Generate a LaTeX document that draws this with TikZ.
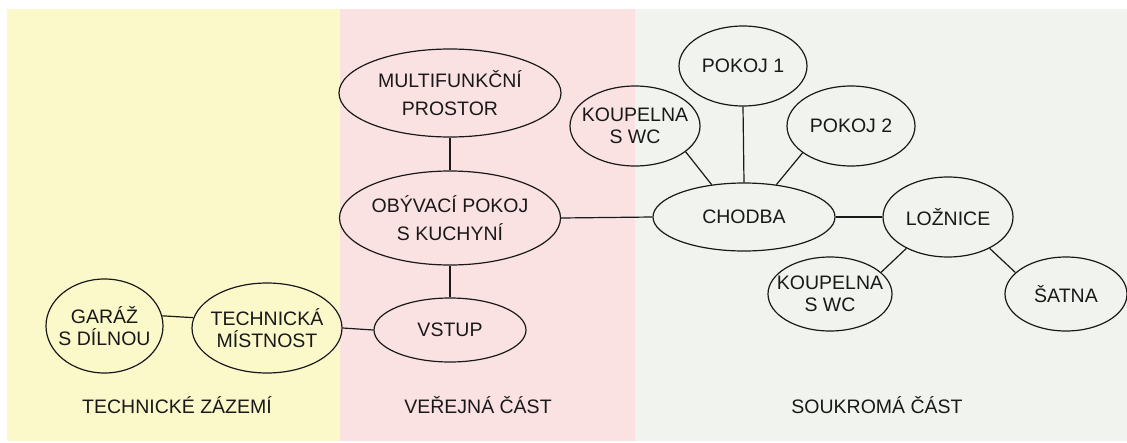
\documentclass[tikz,border=0pt]{standalone}
\usepackage{fontspec}
\setmainfont{Liberation Sans}
\usetikzlibrary{shapes.geometric}
\definecolor{zoneY}{RGB}{251,248,202}
\definecolor{zoneP}{RGB}{251,226,226}
\definecolor{zoneG}{RGB}{241,244,238}
\definecolor{ink}{RGB}{25,25,25}
\tikzset{
  room/.style={draw=ink, line width=1.2pt, ellipse, inner sep=0pt, inner xsep=-20pt, align=center,
    text=ink, font=\fontsize{19.5}{22}\selectfont},
  wide/.style={font=\fontsize{19.5}{28}\selectfont},
  link/.style={draw=ink, line width=1.2pt},
  zonelabel/.style={text=ink, font=\fontsize{19.5}{22}\selectfont, inner sep=0pt}
}
\begin{document}
\begin{tikzpicture}[x=1pt,y=-1pt]
\useasboundingbox (0,0) rectangle (1127,442);
\fill[white] (0,0) rectangle (1127,442);
\fill[zoneY] (7,9) rectangle (340,441);
\fill[zoneP] (340,9) rectangle (635,441);
\fill[zoneG] (635,9) rectangle (1127,441);

\node[room, minimum width=117pt, minimum height=94pt] (gar) at (104.5,326) {GARÁŽ\\S DÍLNOU};
\node[room, minimum width=150pt, minimum height=90pt] (tech) at (267,328) {TECHNICKÁ\\MÍSTNOST};
\node[room, minimum width=152pt, minimum height=64pt] (vst) at (450,330) {VSTUP};
\node[room, wide, minimum width=221pt, minimum height=94pt] (oby) at (450,218) {OBÝVACÍ POKOJ\\S KUCHYNÍ};
\node[room, wide, minimum width=222pt, minimum height=88pt] (mul) at (450,93) {MULTIFUNKČNÍ\\PROSTOR};
\node[room, minimum width=130pt, minimum height=80pt] (kop1) at (635,126) {KOUPELNA\\S WC};
\node[room, minimum width=128pt, minimum height=80pt] (pk1) at (743,66) {POKOJ 1};
\node[room, minimum width=128pt, minimum height=80pt] (pk2) at (851,126) {POKOJ 2};
\node[room, minimum width=182pt, minimum height=68pt] (cho) at (744,217) {CHODBA};
\node[room, minimum width=130pt, minimum height=80pt] (loz) at (948,217) {LOŽNICE};
\node[room, minimum width=124pt, minimum height=74pt] (kop2) at (830,294) {KOUPELNA\\S WC};
\node[room, minimum width=122pt, minimum height=74pt] (sat) at (1066,294) {ŠATNA};

\node[zonelabel] (zt) at (177,405) {TECHNICKÉ ZÁZEMÍ};
\node[zonelabel] (zv) at (478,405) {VEŘEJNÁ ČÁST};
\node[zonelabel] (zs) at (877,405) {SOUKROMÁ ČÁST};

\draw[link] (gar.10) -- (tech.172);
\draw[link] (tech.east) -- (vst.west);
\draw[link] (vst.north) -- (oby.south);
\draw[link] (oby.north) -- (mul.south);
\draw[link] (oby.east) -- (cho.west);
\draw[link] (kop1.-27) -- (cho.135);
\draw[link] (pk1.south) -- (cho.north);
\draw[link] (pk2.209) -- (cho.45);
\draw[link] (cho.east) -- (loz.west);
\draw[link] (loz.217) -- (kop2.23);
\draw[link] (loz.-37) -- (sat.157);
\end{tikzpicture}
\end{document}
